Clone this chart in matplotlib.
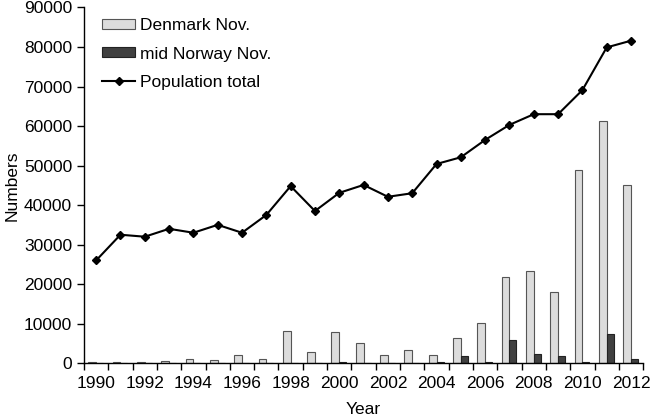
import numpy as np
import matplotlib.pyplot as plt

plt.rcParams['font.family'] = ['Liberation Sans', 'DejaVu Sans']
plt.rcParams['font.size'] = 12.5

years = list(range(1990, 2013))
denmark = [200, 200, 200, 500, 1100, 700, 2000, 1000, 8200, 2900, 7900, 5000,
           2000, 3400, 2000, 6400, 10100, 21900, 23400, 18000, 48900, 61300, 45000]
norway = [100, 100, 100, 0, 0, 0, 0, 0, 0, 0, 400, 0,
          0, 0, 300, 1800, 200, 5900, 2200, 1800, 400, 7400, 1000]
population = [26000, 32500, 32000, 34000, 33000, 35000, 33000, 37500, 44800, 38500,
              43100, 45100, 42100, 43000, 50400, 52100, 56500, 60300, 63000, 63000,
              69100, 79900, 81600]

fig = plt.figure(figsize=(6.51, 4.16), dpi=100)
ax = fig.add_axes([0.129, 0.127, 0.859, 0.855])

x = np.array(years)
w = 0.32
b1 = ax.bar(x - w, denmark, width=w, align='edge', color='#dcdcdc', edgecolor='#555555',
            linewidth=0.8, label='Denmark Nov.')
b2 = ax.bar(x, norway, width=w * 0.9, align='edge', color='#404040', edgecolor='#222222',
            linewidth=0.8, label='mid Norway Nov.')
l1, = ax.plot(x, population, color='black', linewidth=1.5, marker='D', markersize=4.5,
              label='Population total')

ax.set_xlim(1989.5, 2012.5)
ax.set_ylim(0, 90000)
ax.set_yticks(range(0, 90001, 10000))
ax.set_xticks(np.arange(1989.5, 2013, 1))
ax.set_xticklabels([])
ax.set_xticks(years[::2], minor=True)
ax.set_xticklabels([str(y) for y in years[::2]], minor=True)
ax.tick_params(axis='x', which='minor', length=0, pad=9)
ax.tick_params(axis='x', which='major', direction='out', length=5, width=1)
ax.tick_params(axis='y', direction='out', length=5, width=1)

for s in ['top', 'right']:
    ax.spines[s].set_visible(False)
for s in ['left', 'bottom']:
    ax.spines[s].set_linewidth(1)

ax.set_xlabel('Year', labelpad=8)
ax.set_ylabel('Numbers', labelpad=3)

ax.legend([b1, b2, l1], ['Denmark Nov.', 'mid Norway Nov.', 'Population total'],
          loc='upper left', bbox_to_anchor=(0.005, 1.013), frameon=False,
          handlelength=1.9, handleheight=0.5, labelspacing=0.75, handletextpad=0.25)

fig.savefig('out.png', dpi=100)
